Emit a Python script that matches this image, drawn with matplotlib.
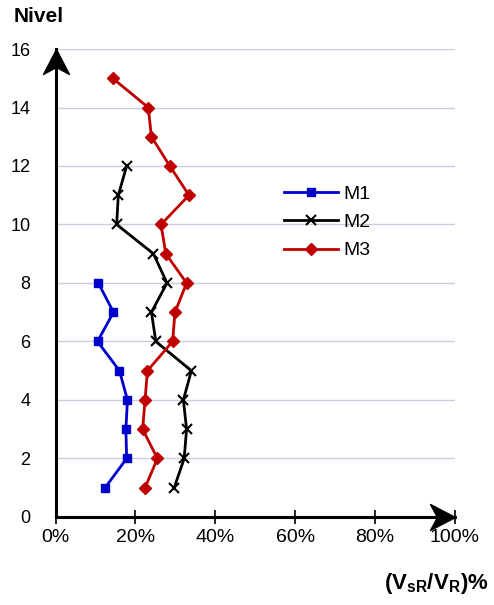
import matplotlib
matplotlib.use("Agg")
import matplotlib.pyplot as plt
from matplotlib.path import Path
import numpy as np

plt.rcParams['font.family'] = ['Liberation Sans', 'DejaVu Sans']
plt.rcParams['mathtext.fontset'] = 'custom'
plt.rcParams['mathtext.rm'] = 'Liberation Sans'
plt.rcParams['mathtext.bf'] = 'Liberation Sans:bold'

# niveles y porcentajes (V_sR / V_R)
niv_m1 = [1, 2, 3, 4, 5, 6, 7, 8]
m1 = [12.4, 17.8, 17.6, 18.0, 16.0, 10.5, 14.5, 10.7]

niv_m2 = [1, 2, 3, 4, 5, 6, 7, 8, 9, 10, 11, 12]
m2 = [29.7, 32.2, 32.8, 32.0, 34.0, 25.1, 24.0, 27.9, 24.5, 15.3, 15.7, 17.8]

niv_m3 = [1, 2, 3, 4, 5, 6, 7, 8, 9, 10, 11, 12, 13, 14, 15]
m3 = [22.4, 25.5, 21.8, 22.4, 23.0, 29.3, 29.9, 32.8, 27.6, 26.4, 33.4, 28.6, 24.0, 23.2, 14.3]

xticks = [0, 20, 40, 60, 80, 100]
yticks = [0, 2, 4, 6, 8, 10, 12, 14, 16]

fig = plt.figure(figsize=(4.94, 6.05), dpi=100)
ax = fig.add_axes([0.1125, 0.1455, 0.8085, 0.7735])

ax.plot(m1, niv_m1, color='#0000cc', lw=2, marker='s', ms=6, label='M1')
ax.plot(m2, niv_m2, color='black', lw=2, marker='x', ms=7, mew=1.5, label='M2')
ax.plot(m3, niv_m3, color='#c00000', lw=2, marker='D', ms=6, label='M3')

ax.set_xlim(0, 100)
ax.set_ylim(0, 16)
ax.set_xticks(xticks)
ax.set_xticklabels([f'{t}%' for t in xticks])
ax.set_yticks(yticks)

for y in yticks[1:]:
    ax.axhline(y, color='#c8cedc', lw=1, zorder=0)

for s in ['top', 'right']:
    ax.spines[s].set_visible(False)
ax.spines['left'].set_linewidth(2.2)
ax.spines['bottom'].set_linewidth(2.2)
ax.tick_params(axis='x', direction='inout', length=10, width=1.2, labelsize=14, pad=4)
ax.tick_params(axis='y', length=0, labelsize=13, pad=18)

# puntas de flecha de los ejes
head = Path([(0, 0), (-0.52, -1), (0, -0.72), (0.52, -1), (0, 0)],
            [Path.MOVETO, Path.LINETO, Path.LINETO, Path.LINETO, Path.CLOSEPOLY])
ax.plot([0], [16], marker=head, ms=36, color='black', clip_on=False, zorder=5)
head_r = head.transformed(matplotlib.transforms.Affine2D().rotate_deg(-90))
ax.plot([100], [0], marker=head_r, ms=36, color='black', clip_on=False, zorder=5)

ax.legend(loc='upper left', bbox_to_anchor=(0.572, 0.709), frameon=False,
          fontsize=14, handlelength=2.75, handletextpad=0.3, labelspacing=0.55,
          borderaxespad=0, borderpad=0)

fig.text(0.028, 0.972, 'Nivel', fontsize=15, fontweight='bold', va='center')
fig.text(0.99, 0.035, r'$\mathbf{(V_{sR}/V_{R})\%}$', fontsize=16,
         ha='right', va='center')

fig.savefig('out.png', dpi=100)
